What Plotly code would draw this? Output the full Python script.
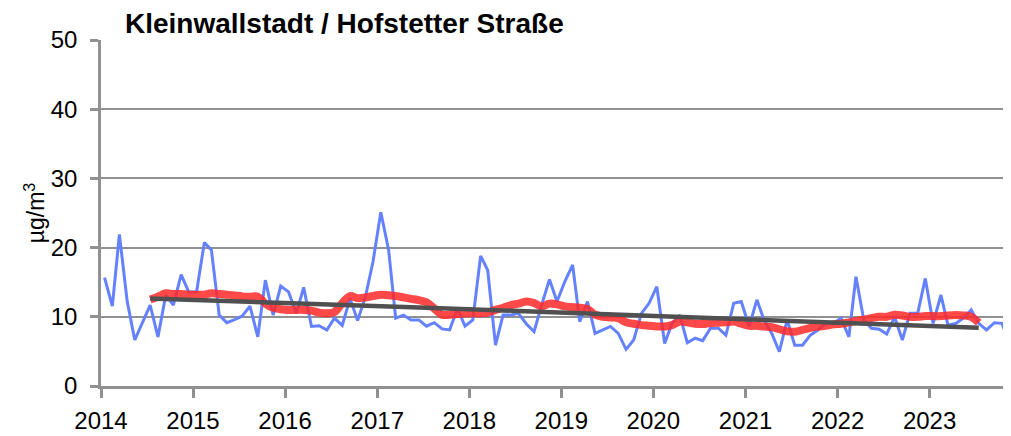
import plotly.graph_objects as go
import pandas as pd

# monthly mean values (Jan 2014 .. Dec 2023), µg/m³
monthly = [15.65, 11.55, 21.9, 12.2, 6.65, 9.15, 11.7, 7.1, 13.15, 11.7, 16.1, 13.6,
           13.6, 20.75, 19.65, 10.25, 9.15, 9.6, 10.1, 11.55, 7.1, 15.3, 10.25, 14.45,
           13.6, 10.5, 14.25, 8.6, 8.7, 8.1, 9.8, 8.75, 12.65, 9.45, 12.9, 17.95,
           25.1, 19.65, 9.8, 10.25, 9.55, 9.55, 8.65, 9.15, 8.25, 8.1, 11.2, 8.65,
           9.55, 18.8, 16.75, 5.9, 10.25, 10.25, 10.5, 9.0, 7.85, 11.7, 15.4, 12.2,
           15.1, 17.5, 9.3, 12.2, 7.6, 8.1, 8.6, 7.6, 5.3, 6.65, 10.5, 11.95,
           14.35, 6.15, 9.05, 10.25, 6.25, 6.9, 6.55, 8.35, 8.35, 7.35, 11.95, 12.2,
           8.6, 12.45, 9.55, 7.6, 4.95, 9.55, 5.9, 5.9, 7.35, 8.1, 9.05, 9.05,
           9.8, 7.1, 15.8, 9.55, 8.35, 8.2, 7.5, 10.0, 6.65, 10.5, 10.5, 15.55,
           9.05, 13.15, 8.8, 9.05, 9.8, 11.0, 9.05, 8.1, 9.15, 9.05, 6.15, 9.0]

# running 12-month mean (Jul 2014 .. Jul 2023)
running = [12.5, 12.9, 13.4, 13.3, 13.3, 13.2, 13.2, 13.2, 13.4, 13.3, 13.2, 13.1,
           12.95, 12.9, 12.9, 11.9, 11.3, 11.1, 11.0, 11.0, 11.0, 10.9, 10.6, 10.5,
           10.7, 12.0, 13.0, 12.7, 12.8, 13.0, 13.2, 13.1, 13.0, 12.8, 12.6, 12.4,
           12.1, 11.2, 10.3, 10.3, 10.4, 10.5, 10.5, 10.5, 10.6, 11.0, 11.3, 11.7,
           11.9, 12.2, 12.0, 11.5, 11.9, 11.8, 11.5, 11.4, 11.3, 11.1, 10.3, 10.0,
           9.9, 9.8, 9.2, 9.0, 8.8, 8.7, 8.6, 8.6, 8.8, 9.3, 9.2, 9.0,
           8.95, 9.1, 9.15, 9.2, 9.3, 9.0, 8.7, 8.7, 8.6, 8.5, 8.2, 7.9,
           7.85, 8.1, 8.4, 8.6, 8.7, 8.9, 9.0, 9.2, 9.4, 9.6, 9.8, 10.0,
           10.0, 10.3, 10.2, 10.0, 10.0, 10.1, 10.1, 10.1, 10.2, 10.25, 10.2, 10.0,
           9.15]

# trend line, read at each July (2014 .. 2023)
trend = [12.65, 12.25, 11.75, 11.3, 10.85, 10.35, 10.0, 9.45, 8.95, 8.4]

tick_years = list(range(2014, 2024))
y_ticks = [0, 10, 20, 30, 40, 50]

month_dates = [pd.Timestamp(2014, 1, 1) + pd.DateOffset(months=i) + pd.Timedelta(days=14)
               for i in range(len(monthly))]
running_dates = month_dates[6:6 + len(running)]
trend_dates = [month_dates[6 + 12 * i] for i in range(len(trend))]

FONT = "Liberation Sans, Arial, sans-serif"
AXIS_GREY = "rgb(145,145,145)"

fig = go.Figure()
fig.add_trace(go.Scatter(x=month_dates, y=monthly, mode="lines",
                         line=dict(color="rgb(100,130,255)", width=3),
                         showlegend=False, hoverinfo="skip"))
fig.add_trace(go.Scatter(x=running_dates, y=running, mode="lines",
                         line=dict(color="rgba(255,40,40,0.85)", width=8, shape="spline"),
                         showlegend=False, hoverinfo="skip"))
fig.add_trace(go.Scatter(x=trend_dates, y=trend, mode="lines",
                         line=dict(color="rgb(80,80,80)", width=4.5),
                         showlegend=False, hoverinfo="skip"))

# page body has an 8px margin: figure is sized so the plot area lands where the reference has it
fig.update_layout(
    width=1003, height=428,
    margin=dict(l=93, r=0, t=32, b=50),
    paper_bgcolor="white", plot_bgcolor="white",
    font=dict(family=FONT, size=24, color="black"),
    title=dict(text="<b>Kleinwallstadt / Hofstetter Straße</b>",
               font=dict(family=FONT, size=28, color="black"),
               xref="container", yref="container", x=117 / 1003, xanchor="left",
               y=1 - 15 / 428, yanchor="middle"),
    xaxis=dict(type="date",
               range=["2014-01-01", "2023-11-20"],
               tickvals=[pd.Timestamp(y, 1, 1) for y in tick_years],
               ticktext=[str(y) for y in tick_years],
               showgrid=False, showline=True, linecolor=AXIS_GREY, linewidth=2.5,
               ticks="outside", ticklen=9, tickwidth=2.5, tickcolor=AXIS_GREY,
               zeroline=False, tickfont=dict(size=24), ticklabelstandoff=2),
    yaxis=dict(range=[0, 50], tickvals=y_ticks,
               showgrid=True, gridcolor=AXIS_GREY, gridwidth=2,
               showline=True, linecolor=AXIS_GREY, linewidth=2.5,
               ticks="outside", ticklen=8, tickwidth=2.5, tickcolor=AXIS_GREY,
               zeroline=False, tickfont=dict(size=24), ticklabelstandoff=8,
               title=dict(text="µg/m<sup>3</sup>", font=dict(size=23), standoff=0)),
)

fig.write_html("out.html")
